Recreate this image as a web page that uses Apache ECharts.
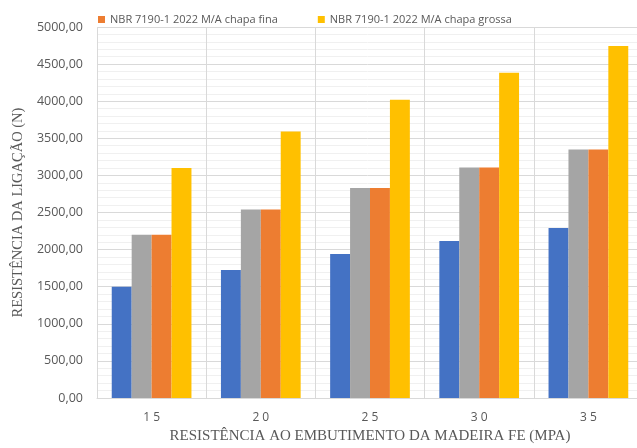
<!DOCTYPE html>
<html><head><meta charset="utf-8">
<script src="https://cdn.jsdelivr.net/npm/echarts@6/dist/echarts.min.js"></script>
<style>html,body{margin:0;padding:0;background:#fff}#c{width:637px;height:448px}</style>
</head><body><div id="c"></div>
<script>
var categories = ['15', '20', '25', '30', '35'];
var serie1 = [1500, 1725, 1940, 2115, 2290];
var serie2 = [2200, 2540, 2830, 3105, 3350];
var serieFina = [2200, 2540, 2830, 3105, 3350];
var serieGrossa = [3100, 3590, 4020, 4385, 4745];
var yTicks = [0, 500, 1000, 1500, 2000, 2500, 3000, 3500, 4000, 4500, 5000];

var chart = echarts.init(document.getElementById('c'));
var ser = function (name, data, color) {
  return { name: name, type: 'bar', data: data, barGap: '0%', barCategoryGap: '27%',
    itemStyle: { color: color }, animation: false };
};
chart.setOption({
  animation: false,
  legend: {
    data: ['NBR 7190-1 2022 M/A chapa fina', 'NBR 7190-1 2022 M/A chapa grossa'],
    top: 9, left: 93, itemWidth: 7, itemHeight: 7, itemGap: 40, icon: 'rect',
    textStyle: { fontFamily: 'Open Sans', fontSize: 11, color: '#595959' }
  },
  grid: { left: 97, top: 27, width: 546, height: 371, containLabel: false, outerBoundsMode: 'none' },
  xAxis: {
    type: 'category', data: categories,
    name: 'RESISTÊNCIA AO EMBUTIMENTO DA MADEIRA FE (MPA)', nameLocation: 'middle', nameGap: 31,
    nameTextStyle: { fontFamily: 'Liberation Serif', fontSize: 15, color: '#595959' },
    axisLine: { lineStyle: { color: '#d9d9d9' } },
    axisTick: { show: false },
    splitLine: { show: true, lineStyle: { color: '#d9d9d9' } },
    axisLabel: { fontFamily: 'Open Sans', fontSize: 12, color: '#595959', margin: 14,
      formatter: function (v) { return v.split('').join(' '); } }
  },
  yAxis: {
    type: 'value', min: yTicks[0], max: yTicks[yTicks.length - 1], interval: 500,
    name: 'RESISTÊNCIA DA LIGAÇÃO (N)', nameLocation: 'middle', nameGap: 69,
    nameTextStyle: { fontFamily: 'Liberation Serif', fontSize: 14.5, color: '#595959' },
    axisLine: { show: false }, axisTick: { show: false },
    axisLabel: { fontFamily: 'Open Sans', fontSize: 12.5, color: '#595959', margin: 14,
      formatter: function (v) { return v.toFixed(2).replace('.', ','); } },
    splitLine: { lineStyle: { color: '#d9d9d9' } },
    minorTick: { show: false, splitNumber: 5 },
    minorSplitLine: { show: true, lineStyle: { color: '#f0f0f0' } }
  },
  series: [
    ser('Série 1', serie1, '#4472c4'),
    ser('Série 2', serie2, '#a5a5a5'),
    ser('NBR 7190-1 2022 M/A chapa fina', serieFina, '#ed7d31'),
    ser('NBR 7190-1 2022 M/A chapa grossa', serieGrossa, '#ffc000')
  ]
});
</script></body></html>
